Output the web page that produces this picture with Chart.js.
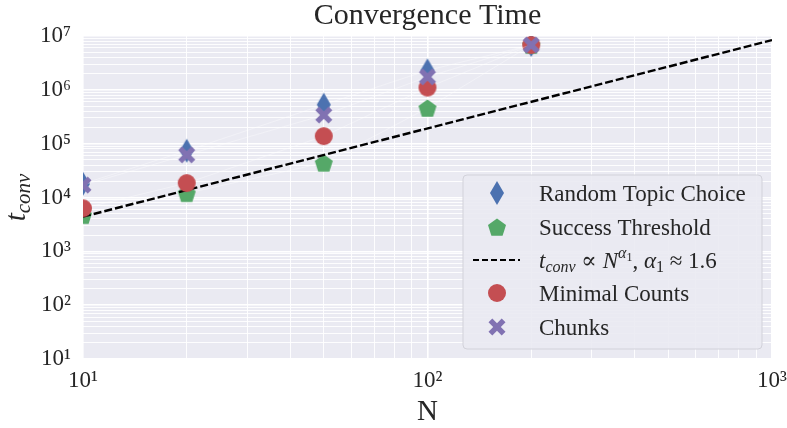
<!DOCTYPE html>
<html>
<head>
<meta charset="utf-8">
<script src="https://cdn.jsdelivr.net/npm/chart.js@4/dist/chart.umd.min.js"></script>
<style>
  html, body { margin: 0; padding: 0; background: #fff; }
  #wrap { width: 787px; height: 428px; }
</style>
</head>
<body>
<div id="wrap"><canvas id="convChart"></canvas></div>
<script>
// data
const nValues = [10, 20, 50, 100, 200];
const randomTopic = [1.8e4, 7.4e4, 5.3e5, 2.3e6, 6.8e6];
const successThreshold = [4.7e3, 1.2e4, 4.4e4, 4.6e5, 6.8e6];
const minimalCounts = [6.3e3, 1.85e4, 1.38e5, 1.1e6, 6.8e6];
const chunks = [1.7e4, 6.2e4, 3.4e5, 1.74e6, 6.8e6];

// power law guide line, t ~ N^1.6
const fitN = [10, 1000];
const fitT = [4.4e3, 8.4e6];

// ticks
const xDecades = [10, 100, 1000];
const xTickLabels = ["10¹", "10²", "10³"];
const yDecades = [10, 100, 1000, 1e4, 1e5, 1e6, 1e7];
const yTickLabels = ["10¹", "10²", "10³", "10⁴", "10⁵", "10⁶", "10⁷"];

const TEXT = "#262626";
const SERIF = "'Liberation Serif', 'DejaVu Serif', serif";
const COLORS = {
  blue: "#4C72B0",
  green: "#55A868",
  red: "#C44E52",
  purple: "#8172B2",
};

function toPoints(xs, ys) {
  return xs.map((x, i) => ({ x: x, y: ys[i] }));
}

// log ticks: decades are major, 2..9 in between are minor
function logTicks(decades) {
  const out = [];
  decades.forEach((d, i) => {
    out.push({ value: d, major: true });
    if (i < decades.length - 1) {
      for (let k = 2; k <= 9; k++) out.push({ value: k * d, major: false });
    }
  });
  return out;
}

// marker images
function makeMarker(kind, color) {
  const c = document.createElement("canvas");
  c.width = 28;
  c.height = 28;
  const g = c.getContext("2d");
  g.fillStyle = color;
  g.translate(14, 14);
  g.beginPath();
  if (kind === "diamond") {
    g.moveTo(0, -12);
    g.lineTo(7, 0);
    g.lineTo(0, 12);
    g.lineTo(-7, 0);
  } else if (kind === "pentagon") {
    const r = 9.5;
    for (let i = 0; i < 5; i++) {
      const a = -Math.PI / 2 + (i * 2 * Math.PI) / 5;
      const px = r * Math.cos(a), py = r * Math.sin(a) + 1;
      if (i === 0) g.moveTo(px, py);
      else g.lineTo(px, py);
    }
  } else if (kind === "circle") {
    g.arc(0, 0, 9, 0, Math.PI * 2);
  } else if (kind === "x") {
    const a = 8.5, w = 3.8;
    g.moveTo(-a, -a + w);
    g.lineTo(-a + w, -a);
    g.lineTo(0, -w);
    g.lineTo(a - w, -a);
    g.lineTo(a, -a + w);
    g.lineTo(w, 0);
    g.lineTo(a, a - w);
    g.lineTo(a - w, a);
    g.lineTo(0, w);
    g.lineTo(-a + w, a);
    g.lineTo(-a, a - w);
    g.lineTo(-w, 0);
  }
  g.closePath();
  g.fill();
  return c;
}

const markers = {
  diamond: makeMarker("diamond", COLORS.blue),
  pentagon: makeMarker("pentagon", COLORS.green),
  circle: makeMarker("circle", COLORS.red),
  x: makeMarker("x", COLORS.purple),
};

function seriesDataset(label, ys, marker, order) {
  return {
    label: label,
    data: toPoints(nValues, ys),
    showLine: true,
    borderColor: "rgba(255,255,255,0.35)",
    borderWidth: 1,
    pointStyle: marker,
    pointRadius: 9,
    pointHoverRadius: 9,
    clip: 0,
    order: order,
  };
}

// background of the plot area
const plotBackground = {
  id: "plotBackground",
  beforeDraw(chart) {
    const a = chart.chartArea;
    const ctx = chart.ctx;
    ctx.save();
    ctx.fillStyle = "#EAEAF2";
    ctx.fillRect(a.left, a.top, a.right - a.left, a.bottom - a.top);
    ctx.restore();
  },
};

// draws text pieces in a row: [text, font, dy]
function drawRuns(ctx, runs, x, y) {
  let cx = x;
  runs.forEach((r) => {
    ctx.font = r[1];
    ctx.fillText(r[0], cx, y + (r[2] || 0));
    cx += ctx.measureText(r[0]).width;
  });
  return cx;
}
function runsWidth(ctx, runs) {
  let w = 0;
  runs.forEach((r) => {
    ctx.font = r[1];
    w += ctx.measureText(r[0]).width;
  });
  return w;
}

// axis titles and legend
const annotations = {
  id: "annotations",
  afterDraw(chart) {
    const ctx = chart.ctx;
    const a = chart.chartArea;
    ctx.save();
    ctx.fillStyle = TEXT;
    ctx.textBaseline = "alphabetic";
    ctx.textAlign = "left";

    // x title
    ctx.font = "29px " + SERIF;
    ctx.textAlign = "center";
    ctx.fillText("N", (a.left + a.right) / 2, 420);
    ctx.textAlign = "left";

    // y title, t_conv
    const yRuns = [
      ["t", "italic 29px " + SERIF, 0],
      ["conv", "italic 21px " + SERIF, 5],
    ];
    ctx.save();
    ctx.translate(25, (a.top + a.bottom) / 2);
    ctx.rotate(-Math.PI / 2);
    drawRuns(ctx, yRuns, -runsWidth(ctx, yRuns) / 2, 0);
    ctx.restore();

    // legend box
    const bx = 463, by = 175, bw = 299, bh = 174;
    ctx.beginPath();
    ctx.roundRect(bx, by, bw, bh, 4);
    ctx.fillStyle = "rgba(234,234,242,0.9)";
    ctx.fill();
    ctx.strokeStyle = "#d2d2da";
    ctx.lineWidth = 1;
    ctx.stroke();

    const mx = 497, tx = 539;
    const rowY = [193, 227, 260, 293, 327];
    const font = "23px " + SERIF;
    const ifont = "italic 23px " + SERIF;
    const sfont = "italic 16px " + SERIF;
    const sub = "16px " + SERIF;
    const tiny = "12px " + SERIF;

    ctx.fillStyle = TEXT;
    const place = (img, y) => ctx.drawImage(img, mx - img.width / 2, y - img.height / 2);

    place(markers.diamond, rowY[0]);
    ctx.font = font;
    ctx.fillText("Random Topic Choice", tx, rowY[0] + 8);

    place(markers.pentagon, rowY[1]);
    ctx.font = font;
    ctx.fillText("Success Threshold", tx, rowY[1] + 8);

    ctx.strokeStyle = "#000";
    ctx.lineWidth = 2;
    ctx.setLineDash([6, 3]);
    ctx.beginPath();
    ctx.moveTo(473, rowY[2]);
    ctx.lineTo(520, rowY[2]);
    ctx.stroke();
    ctx.setLineDash([]);
    drawRuns(ctx, [
      ["t", ifont, 0],
      ["conv", sfont, 4],
      [" ∝ ", font, 0],
      ["N", ifont, 0],
      ["α", sfont, -10],
      ["1", tiny, -7],
      [", ", font, 0],
      ["α", ifont, 0],
      ["1", sub, 4],
      [" ≈ 1.6", font, 0],
    ], tx, rowY[2] + 8);

    place(markers.circle, rowY[3]);
    ctx.font = font;
    ctx.fillText("Minimal Counts", tx, rowY[3] + 8);

    place(markers.x, rowY[4]);
    ctx.font = font;
    ctx.fillText("Chunks", tx, rowY[4] + 8);

    ctx.restore();
  },
};

function gridWidth(c) {
  return c.tick && c.tick.major ? 1.6 : 0.9;
}

new Chart(document.getElementById("convChart"), {
  type: "scatter",
  data: {
    datasets: [
      seriesDataset("Random Topic Choice", randomTopic, markers.diamond, 5),
      seriesDataset("Success Threshold", successThreshold, markers.pentagon, 4),
      {
        label: "fit",
        data: toPoints(fitN, fitT),
        showLine: true,
        borderColor: "#000",
        borderWidth: 2.4,
        borderDash: [8, 3],
        pointRadius: 0,
        pointHoverRadius: 0,
        order: 3,
      },
      seriesDataset("Minimal Counts", minimalCounts, markers.circle, 2),
      seriesDataset("Chunks", chunks, markers.x, 1),
    ],
  },
  options: {
    responsive: true,
    maintainAspectRatio: false,
    animation: false,
    events: [],
    layout: { padding: { left: 0, right: 15, top: 0, bottom: 0 } },
    plugins: {
      legend: { display: false },
      tooltip: { enabled: false },
      title: {
        display: true,
        text: "Convergence Time",
        fullSize: false,
        color: TEXT,
        font: { family: SERIF, size: 30, weight: "normal", lineHeight: 1.1 },
        padding: { top: 0, bottom: 3 },
      },
    },
    scales: {
      x: {
        type: "logarithmic",
        min: 10,
        max: 1000,
        afterBuildTicks: (s) => { s.ticks = logTicks(xDecades); },
        afterFit: (s) => {
          s.height = 69;
          s.paddingLeft = 0;
          s.paddingRight = 0;
        },
        grid: { color: "#fff", lineWidth: gridWidth, drawTicks: false },
        border: { display: false },
        ticks: {
          autoSkip: false,
          maxRotation: 0,
          padding: 8,
          color: TEXT,
          font: { family: SERIF, size: 23 },
          callback: (v) => {
            const i = xDecades.indexOf(v);
            return i >= 0 ? xTickLabels[i] : "";
          },
        },
      },
      y: {
        type: "logarithmic",
        min: 10,
        max: 1e7,
        afterBuildTicks: (s) => { s.ticks = logTicks(yDecades); },
        afterFit: (s) => {
          s.width = 83;
          s.paddingTop = 0;
          s.paddingBottom = 0;
        },
        grid: { color: "#fff", lineWidth: gridWidth, drawTicks: false },
        border: { display: false },
        ticks: {
          autoSkip: false,
          padding: 12,
          color: TEXT,
          font: { family: SERIF, size: 23 },
          callback: (v) => {
            const i = yDecades.indexOf(v);
            return i >= 0 ? yTickLabels[i] : "";
          },
        },
      },
    },
  },
  plugins: [plotBackground, annotations],
});
</script>
</body>
</html>
